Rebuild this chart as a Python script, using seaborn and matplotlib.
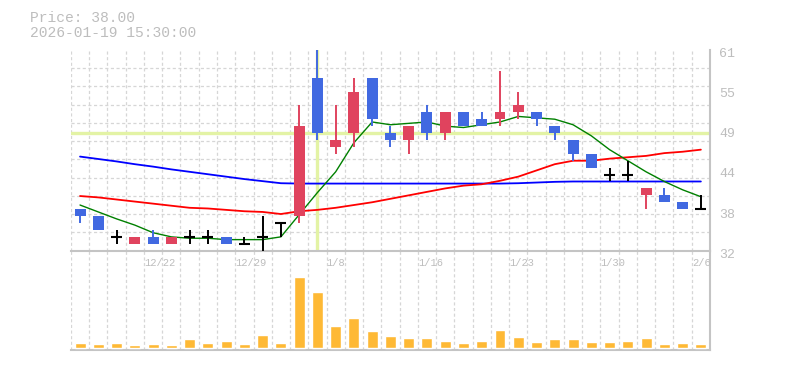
import numpy as np
import matplotlib
matplotlib.use("Agg")
import matplotlib.pyplot as plt
import matplotlib.transforms as mtransforms
import seaborn as sns

# ---------------- data ----------------
dates = ["12/16", "12/17", "12/18", "12/19", "12/22", "12/23", "12/24", "12/25", "12/26",
         "12/29", "12/30", "1/5", "1/6", "1/7", "1/8", "1/9", "1/13", "1/14", "1/15",
         "1/16", "1/19", "1/20", "1/21", "1/22", "1/23", "1/26", "1/27", "1/28", "1/29",
         "1/30", "2/2", "2/3", "2/4", "2/5", "2/6"]
open_ = [38, 37, 34, 33, 34, 33, 34, 34, 34, 33, 34, 36, 37, 57, 47, 49, 57, 49, 48, 52,
         49, 52, 51, 51, 52, 52, 50, 48, 46, 43, 43, 40, 40, 39, 38]
high = [38, 37, 35, 34, 35, 34, 35, 35, 34, 34, 37, 36, 53, 61, 53, 57, 57, 50, 50, 53,
        52, 52, 52, 58, 55, 52, 50, 48, 46, 44, 45, 41, 41, 39, 40]
low = [36, 35, 33, 33, 33, 33, 33, 33, 33, 33, 32, 34, 36, 48, 46, 47, 50, 47, 46, 48,
       48, 50, 50, 50, 51, 50, 48, 45, 44, 42, 42, 38, 39, 38, 38]
close = [37, 35, 34, 34, 33, 34, 34, 34, 33, 33, 34, 36, 50, 49, 48, 55, 51, 48, 50, 49,
         52, 50, 50, 52, 53, 51, 49, 46, 44, 43, 43, 41, 39, 38, 38]
volume = [16, 13, 16, 10, 13, 10, 28, 16, 22, 13, 40, 16, 213, 168, 67, 90, 52, 37, 31, 31,
          22, 16, 22, 55, 34, 19, 28, 28, 19, 19, 22, 31, 13, 16, 13]
ma_short = [38.6, 37.6, 36.6, 35.7, 34.6, 34.0, 33.8, 33.8, 33.6, 33.6, 33.6, 34.0, 37.2,
            40.4, 43.4, 47.6, 50.6, 50.2, 50.4, 50.6, 50.0, 49.8, 50.2, 50.6, 51.4, 51.2,
            51.0, 50.2, 48.6, 46.6, 45.0, 43.4, 42.0, 40.8, 39.8]
ma_mid = [39.9, 39.7, 39.4, 39.1, 38.8, 38.5, 38.2, 38.1, 37.9, 37.7, 37.6, 37.3, 37.7,
          37.9, 38.2, 38.6, 39.0, 39.5, 40.0, 40.5, 41.0, 41.4, 41.6, 42.1, 42.7, 43.6,
          44.5, 45.0, 45.0, 45.3, 45.5, 45.7, 46.1, 46.3, 46.6]
ma_long = [45.6, 45.25, 44.9, 44.5, 44.15, 43.75, 43.4, 43.05, 42.7, 42.35, 42.05, 41.75,
           41.7, 41.7, 41.7, 41.7, 41.7, 41.7, 41.7, 41.7, 41.7, 41.7, 41.7, 41.7, 41.75,
           41.85, 41.95, 42.0, 42.0, 42.0, 42.0, 42.0, 42.0, 42.0, 42.0]
label_dates = ["12/22", "12/29", "1/8", "1/16", "1/23", "1/30", "2/6"]
header_price = "Price: 38.00"
header_time = "2026-01-19 15:30:00"
crosshair_date = "1/7"
crosshair_price = 49

# ---------------- style ----------------
sns.set_style("white")
plt.rcParams['font.family'] = ['Liberation Mono', 'DejaVu Sans Mono']

UP, DOWN, DOJI = '#e0435e', '#4169e1', 'black'
GRID = '#d6d6d6'
SPINE = '#c4c4c4'
TXT = '#bdbdbd'

W, H = 785, 370
fig = plt.figure(figsize=(W / 100, H / 100), dpi=100)
L, R = 70.9, 710.0
T1, B1 = 50.0, 250.7
T2, B2 = 250.7, 350.3
ax = fig.add_axes([L / W, 1 - B1 / H, (R - L) / W, (B1 - T1) / H])
axv = fig.add_axes([L / W, 1 - B2 / H, (R - L) / W, (B2 - T2) / H])

n = len(dates)
idx = np.arange(n)
ymin, ymax = min(low), max(high)

# ---------------- price panel ----------------
ax.set_xlim(-0.5, n - 0.5)
ax.set_ylim(ymin, ymax)
bounds = idx - 0.5
ax.set_xticks(bounds)
ax.set_xticklabels([d if d in label_dates else '' for d in dates], ha='left',
                   fontsize=7.5, color=TXT)
ax.yaxis.tick_right()
yt = np.linspace(ymin, ymax, 6)
ax.set_yticks(yt)
ax.set_yticklabels([f"{v:.0f}" for v in yt], fontsize=9.5, color=TXT)
ax.set_yticks(ymin + np.arange(12) * (ymax - ymin) / 11, minor=True)
ax.tick_params(which='both', length=0)
ax.tick_params(axis='x', pad=5)
ax.tick_params(axis='y', pad=6.5)
shift = mtransforms.ScaledTranslation(0, -2.5 / 100, fig.dpi_scale_trans)
for lab in ax.get_yticklabels():
    lab.set_transform(lab.get_transform() + shift)
ax.grid(False)
ax.grid(axis='x', which='major', color=GRID, linestyle=(0, (2.5, 2)), lw=0.9, zorder=0)
ax.grid(axis='y', which='minor', color=GRID, linestyle=(0, (2.5, 2)), lw=0.9, zorder=0)
ax.set_axisbelow(True)
for s in ['top', 'left']:
    ax.spines[s].set_visible(False)
for s in ['right', 'bottom']:
    ax.spines[s].set_color(SPINE)
    ax.spines[s].set_linewidth(1.5)

# crosshair
cx = dates.index(crosshair_date)
ax.axvline(cx, color='#e3f3a5', lw=2.4, zorder=1)
ax.axhline(crosshair_price, color='#e3f3a5', lw=2.4, zorder=1)

# moving averages
sns.lineplot(x=idx, y=ma_long, ax=ax, color='#0000ff', lw=1.3, zorder=3)
sns.lineplot(x=idx, y=ma_mid, ax=ax, color='#ff0000', lw=1.3, zorder=3)
sns.lineplot(x=idx, y=ma_short, ax=ax, color='#008000', lw=1.0, zorder=3)

# candles
for i in idx:
    o, h, l, c = open_[i], high[i], low[i], close[i]
    col = UP if c > o else (DOWN if c < o else DOJI)
    ax.vlines(i, l, h, color=col, lw=1.4, zorder=4)
    if c == o:
        ax.hlines(o, i - 0.3, i + 0.3, color=col, lw=1.5, zorder=5)
    else:
        ax.bar(i, c - o, bottom=o, width=0.6, color=col, linewidth=0, zorder=5)
ax.set_xlabel('')
ax.set_ylabel('')

# ---------------- volume panel ----------------
sns.barplot(x=idx, y=volume, ax=axv, native_scale=True, color='#feb935',
            saturation=1, width=0.6, errorbar=None, zorder=3)
axv.set_xlim(-0.5, n - 0.5)
vmax = max(volume)
axv.set_ylim(-vmax * 0.0324, vmax * 1.366)
axv.set_xticks(bounds)
axv.set_xticklabels([])
axv.set_yticks([])
axv.tick_params(which='both', length=0)
axv.grid(False)
axv.grid(axis='x', color=GRID, linestyle=(0, (2.5, 2)), lw=0.9, zorder=0)
axv.set_axisbelow(True)
axv.set_xlabel('')
axv.set_ylabel('')
for s in ['top', 'left']:
    axv.spines[s].set_visible(False)
for s in ['right', 'bottom']:
    axv.spines[s].set_color(SPINE)
    axv.spines[s].set_linewidth(1.5)
ax.set_zorder(2)
ax.patch.set_alpha(0)

# ---------------- header ----------------
fig.text(30 / W, 1 - 18 / H, header_price, color=TXT, fontsize=10.5, va='center', ha='left')
fig.text(30 / W, 1 - 33 / H, header_time, color=TXT, fontsize=10.5, va='center', ha='left')

fig.savefig('out.png', dpi=100)
